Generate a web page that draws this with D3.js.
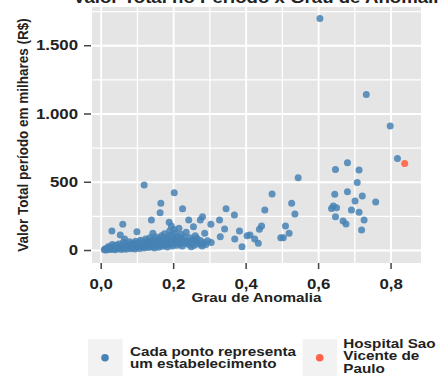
<!DOCTYPE html>
<html><head><meta charset="utf-8">
<script src="https://cdn.jsdelivr.net/npm/d3@7"></script>
<style>
body{margin:0;background:#fff;overflow:hidden}
text{font-family:"Liberation Sans",Arial,sans-serif;font-weight:bold;fill:#222}
</style>
</head><body><svg id="c" width="438" height="376"></svg>
<script>
// ---- data ----
const anomalia = [
0.605,0.733,0.799,0.819,0.681,0.648,0.713,0.545,0.708,0.473,0.646,0.681,0.722,0.702,0.759,0.527,0.453,0.642,0.637,0.651,
0.692,0.713,0.536,0.648,0.669,0.677,0.727,0.720,0.444,0.438,0.510,0.520,0.504,0.497,0.435,0.412,
0.120,0.203,0.166,0.164,0.226,0.346,0.369,0.281,0.275,0.256,0.243,0.140,0.061,0.031,0.054,0.066,0.100,0.144,0.189,0.195,
0.304,0.328,0.342,0.287,0.261,0.383,0.404,0.330,0.370,0.305,0.278,0.250,0.390,0.425,
0.010,0.012,0.015,0.018,0.020,0.022,0.025,0.027,0.030,0.032,0.034,0.036,0.038,0.040,0.042,0.045,0.047,0.050,0.052,0.055,
0.057,0.060,0.062,0.064,0.066,0.068,0.070,0.072,0.075,0.077,0.080,0.082,0.084,0.086,0.088,0.090,0.092,0.095,0.097,0.100,
0.102,0.104,0.106,0.108,0.110,0.112,0.114,0.116,0.118,0.120,0.122,0.124,0.126,0.128,0.130,0.132,0.134,0.136,0.138,0.140,
0.142,0.144,0.146,0.148,0.150,0.152,0.154,0.156,0.158,0.160,0.162,0.164,0.166,0.168,0.170,0.172,0.174,0.176,0.178,0.180,
0.182,0.184,0.186,0.188,0.190,0.192,0.194,0.196,0.198,0.200,0.202,0.204,0.206,0.208,0.210,0.212,0.214,0.216,0.218,0.220,
0.222,0.225,0.228,0.230,0.233,0.236,0.240,0.243,0.246,0.250,0.255,0.258,0.262,0.266,0.270,0.275,0.280,0.285,0.290,0.295
];
const valor = [
1696,1140,908,671,639,590,586,529,495,410,408,427,395,359,351,342,293,322,305,310,
293,276,264,244,212,190,220,146,176,152,176,122,90,90,49,110,
476,420,342,273,302,302,256,244,220,171,220,220,188,139,110,80,134,122,203,176,
188,220,154,122,105,139,105,97,80,56,42,24,24,80,
2,8,0,15,5,25,10,3,18,40,7,28,12,2,35,20,9,45,15,30,
4,22,55,12,38,26,6,48,18,33,60,10,42,25,15,52,30,8,65,20,
40,28,55,12,72,35,45,22,60,15,38,80,50,28,66,18,44,90,32,58,
24,75,40,14,62,95,30,48,70,20,85,38,55,105,28,68,45,120,35,80,
52,22,95,60,140,40,110,70,30,88,150,50,125,75,35,100,60,160,45,85,
115,30,70,95,50,130,65,40,90,55,75,35,60,85,45,70,30,55,40,68
];
const hospitalAnomalia = [0.839];
const hospitalValor = [634];
const xTicks = [0, 0.2, 0.4, 0.6, 0.8];
const yTicks = [0, 500, 1000, 1500];
const xMinor = [0.1, 0.3, 0.5, 0.7];
const yMinor = [250, 750, 1250, 1750];
const legendLines = [["Cada ponto representa", "um estabelecimento"], ["Hospital Sao", "Vicente de", "Paulo"]];
const legendColors = ["#4682b4", "#ff6347"];
const titleText = "Valor Total no Período x Grau de Anomalia";
const xTitle = "Grau de Anomalia";
const yTitle = "Valor Total período em milhares (R$)";

// ---- chart ----
const svg = d3.select("#c");
const P = {l: 92, r: 421, t: 7, b: 263};
const x = d3.scaleLinear().domain([-0.024, 0.884]).range([P.l, P.r]);
const y = d3.scaleLinear().domain([-95, 1780]).range([P.b, P.t]);
const loc = d3.formatLocale({decimal: ",", thousands: ".", grouping: [3], currency: ["R$", ""]});
const K = 1.13; // horizontal stretch of the reference

function stretchText(sel, k) {
  sel.each(function () {
    const t = d3.select(this);
    const xv = +t.attr("x") || 0;
    t.attr("x", xv / k).attr("transform", `scale(${k},1)`);
  });
}
function label(g, str, tx, ty, size, anchor, rot) {
  const gg = g.append("g").attr("transform", rot ? `translate(${tx},${ty}) rotate(-90) scale(1,${K})` : `translate(${tx},${ty}) scale(${K},1)`);
  gg.append("text").attr("text-anchor", anchor).attr("font-size", size).text(str);
}

// panel
svg.append("rect").attr("x", P.l).attr("y", P.t).attr("width", P.r - P.l).attr("height", P.b - P.t).attr("fill", "#e5e5e5");

// grid
const grid = svg.append("g");
grid.append("g").attr("transform", `translate(0,${P.b})`)
  .call(d3.axisBottom(x).tickValues(xMinor).tickSize(-(P.b - P.t)).tickFormat(""))
  .call(g => g.select(".domain").remove())
  .selectAll("line").attr("stroke", "#fff").attr("stroke-width", 1.3);
grid.append("g").attr("transform", `translate(${P.l},0)`)
  .call(d3.axisLeft(y).tickValues(yMinor).tickSize(-(P.r - P.l)).tickFormat(""))
  .call(g => g.select(".domain").remove())
  .selectAll("line").attr("stroke", "#fff").attr("stroke-width", 1.3);
grid.append("g").attr("transform", `translate(0,${P.b})`)
  .call(d3.axisBottom(x).tickValues(xTicks).tickSize(-(P.b - P.t)).tickFormat(""))
  .call(g => g.select(".domain").remove())
  .selectAll("line").attr("stroke", "#fff").attr("stroke-width", 1.9);
grid.append("g").attr("transform", `translate(${P.l},0)`)
  .call(d3.axisLeft(y).tickValues(yTicks).tickSize(-(P.r - P.l)).tickFormat(""))
  .call(g => g.select(".domain").remove())
  .selectAll("line").attr("stroke", "#fff").attr("stroke-width", 1.9);

// points
const pts = anomalia.map((a, i) => ({a, v: valor[i]}));
svg.append("g").selectAll("circle").data(pts).join("circle")
  .attr("cx", d => x(d.a)).attr("cy", d => y(d.v)).attr("r", 3.5)
  .attr("fill", legendColors[0]).attr("fill-opacity", 0.85);
svg.append("g").selectAll("circle").data(hospitalAnomalia.map((a, i) => ({a, v: hospitalValor[i]}))).join("circle")
  .attr("cx", d => x(d.a)).attr("cy", d => y(d.v)).attr("r", 3.5)
  .attr("fill", legendColors[1]).attr("fill-opacity", 0.9);

// axes
const ax = svg.append("g").attr("transform", `translate(${P.l - 1},0)`)
  .call(d3.axisLeft(y).tickValues(yTicks).tickSize(7).tickPadding(6).tickFormat(loc.format(",.0f")));
ax.select(".domain").remove();
ax.selectAll("line").attr("stroke", "#444").attr("stroke-width", 1.5);
ax.selectAll("text").attr("font-size", 14.5).attr("font-family", null).call(stretchText, 1.16);

const bx = svg.append("g").attr("transform", `translate(0,${P.b})`)
  .call(d3.axisBottom(x).tickValues(xTicks).tickSize(6).tickPadding(9.5).tickFormat(loc.format(".1f")));
bx.select(".domain").remove();
bx.selectAll("line").attr("stroke", "#444").attr("stroke-width", 1.5);
bx.selectAll("text").attr("font-size", 14.5).attr("font-family", null).call(stretchText, 1.16);

// titles
label(svg, titleText, 73, 2.5, 16.5, "start");
label(svg, xTitle, (P.l + P.r) / 2, 302.3, 13.5, "middle");
label(svg, yTitle, 28, (P.t + P.b) / 2, 13.5, "middle", true);

// legend
const keyX = [88, 302.7];
const textX = [130, 343.3];
const firstBase = [355.7, 348.3];
legendLines.forEach((lines, i) => {
  svg.append("rect").attr("x", keyX[i]).attr("y", 339).attr("width", 34.5).attr("height", 40).attr("fill", "#f2f2f2");
  svg.append("circle").attr("cx", keyX[i] + 17).attr("cy", 357.7).attr("r", 3.8).attr("fill", legendColors[i]);
  lines.forEach((ln, j) => label(svg, ln, textX[i], firstBase[i] + j * 12.1, 13.5, "start"));
});
</script>
</body></html>
